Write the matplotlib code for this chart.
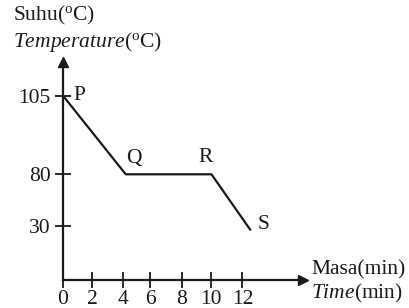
import numpy as np
import matplotlib
matplotlib.use("Agg")
import matplotlib.pyplot as plt

plt.rcParams['font.family'] = ['Liberation Serif', 'DejaVu Serif']
plt.rcParams['mathtext.fontset'] = 'custom'
plt.rcParams['mathtext.rm'] = 'Liberation Serif'
plt.rcParams['mathtext.it'] = 'Liberation Serif:italic'

# data
time_min = [0, 4.2, 10.05, 12.5]
temperature = [105, 80, 80, 28]
point_labels = ['P', 'Q', 'R', 'S']
x_ticks = [0, 2, 4, 6, 8, 10, 12]
y_ticks = [30, 80, 105]

# non-uniform (not-to-scale) axes, as in the reference drawing
xk_data = [0, 2, 4, 6, 8, 10, 12, 30]
xk_pos = [0, 29, 60, 87.4, 119, 147.7, 179.4, 179.4 + 18 * 15.5]
yk_data = [0, 30, 80, 105, 200]
yk_pos = [0, 54, 105.7, 184.3, 184.3 + 95 * 3.16]

def fx(v):
    return np.interp(v, xk_data, xk_pos)
def ifx(v):
    return np.interp(v, xk_pos, xk_data)
def fy(v):
    return np.interp(v, yk_data, yk_pos)
def ify(v):
    return np.interp(v, yk_pos, yk_data)

FS = 15.5
W, H = 410, 308
fig = plt.figure(figsize=(W / 100, H / 100), dpi=100)
ox, oy = 63, 280
tipx, tipy = 303, 62
ax = fig.add_axes([ox / W, (H - oy) / H, (tipx - ox) / W, (oy - tipy) / H])
ax.set_xscale('function', functions=(fx, ifx))
ax.set_yscale('function', functions=(fy, ify))
ax.set_xlim(0, ifx(tipx - ox))
ax.set_ylim(0, ify(oy - tipy))
ax.patch.set_visible(False)

for s in ['top', 'right']:
    ax.spines[s].set_visible(False)
for s in ['left', 'bottom']:
    ax.spines[s].set_linewidth(1.6)
    ax.spines[s].set_color('#1a1a1a')

ax.plot(1, 0, '>', color='#1a1a1a', markersize=7, transform=ax.transAxes, clip_on=False)
ax.plot(0, 1, '^', color='#1a1a1a', markersize=7, transform=ax.transAxes, clip_on=False)

ax.plot(time_min, temperature, color='#1a1a1a', lw=1.6, clip_on=False)

ax.set_xticks(x_ticks)
ax.set_xticklabels([str(v) for v in x_ticks])
ax.set_yticks(y_ticks)
ax.set_yticklabels([str(v) for v in y_ticks])
ax.minorticks_off()
ax.tick_params(axis='both', direction='inout', length=11, width=1.3, color='#1a1a1a',
               labelsize=FS, labelcolor='#1a1a1a')
ax.tick_params(axis='y', pad=3.5)
ax.tick_params(axis='x', pad=1.5)

offsets = [(10, 0), (8, 16), (-6, 17), (7, 5)]
has = ['left', 'center', 'center', 'left']
for x, y, lab, off, ha in zip(time_min, temperature, point_labels, offsets, has):
    ax.annotate(lab, (x, y), xytext=off, textcoords='offset pixels', ha=ha, va='center',
                fontsize=FS, color='#1a1a1a', annotation_clip=False)

fig.text(13 / W, 1 - 15 / H, r'Suhu($^{\mathrm{o}}$C)', ha='left', va='center', fontsize=FS, color='#1a1a1a')
fig.text(13 / W, 1 - 42 / H, r'$\mathit{Temperature}$($^{\mathrm{o}}$C)', ha='left', va='center', fontsize=FS, color='#1a1a1a')
fig.text(311 / W, 1 - 270 / H, 'Masa(min)', ha='left', va='center', fontsize=FS, color='#1a1a1a')
fig.text(311 / W, 1 - 293 / H, r'$\mathit{Time}$(min)', ha='left', va='center', fontsize=FS, color='#1a1a1a')

fig.savefig('out.png', dpi=100)
